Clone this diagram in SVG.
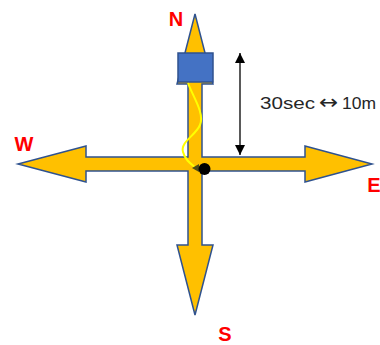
<svg xmlns="http://www.w3.org/2000/svg" width="380" height="345" viewBox="0 0 380 345">
<style>
.lbl{font-family:"Liberation Sans",Arial,sans-serif;font-weight:bold;font-size:20px;fill:#FF0000;text-anchor:middle}
.txt{font-family:"Liberation Sans",Arial,sans-serif;font-size:17px;fill:#262626}
.arr{font-family:"DejaVu Sans",sans-serif;font-size:20px}
</style>
<defs>
<marker id="ah" viewBox="0 0 10 10" refX="10" refY="5" markerWidth="10" markerHeight="10" markerUnits="userSpaceOnUse" orient="auto-start-reverse">
<path d="M0,0 L10,5 L0,10 Z" fill="#000"/>
</marker>
</defs>
<rect width="380" height="345" fill="#fff"/>
<g id="compass">
<path d="M195,14 L213,84 L202,84 L202,157 L305,157 L305,146 L372,164 L305,182 L305,171 L202,171 L202,245 L213,245 L195,315 L177,245 L188,245 L188,171 L86,171 L86,182 L18,164 L86,146 L86,157 L188,157 L188,84 L177,84 Z" fill="#FFC000" stroke="#2F528F" stroke-width="1.5" stroke-linejoin="miter"/>
</g>
<g id="device">
<rect x="178" y="53" width="35" height="29" fill="#4472C4" stroke="#2F528F" stroke-width="1.5"/>
</g>
<g id="connectors">
<path d="M188,83 C192,95 205,113 200,125 C196,135 180,142 183,152 C185,160 191,164 196,168" fill="none" stroke="#FFFF00" stroke-width="2"/>
<path d="M192,168 L199,164 L199,172 Z" fill="#4d4d1a"/>
<line x1="240" y1="53" x2="240" y2="155" stroke="#000" stroke-width="1.3" marker-start="url(#ah)" marker-end="url(#ah)"/>
</g>
<g id="position">
<circle cx="204.5" cy="169" r="6" fill="#000"/>
</g>
<g id="labels">
<text class="lbl" x="176" y="26">N</text>
<text class="lbl" x="24" y="151">W</text>
<text class="lbl" x="374" y="192">E</text>
<text class="lbl" x="225" y="341">S</text>
<text class="txt" x="260" y="109"><tspan x="260" textLength="55" lengthAdjust="spacingAndGlyphs">30sec</tspan><tspan class="arr" x="319" textLength="19" lengthAdjust="spacingAndGlyphs">↔</tspan><tspan x="342" textLength="34" lengthAdjust="spacingAndGlyphs">10m</tspan></text>
</g>
</svg>
